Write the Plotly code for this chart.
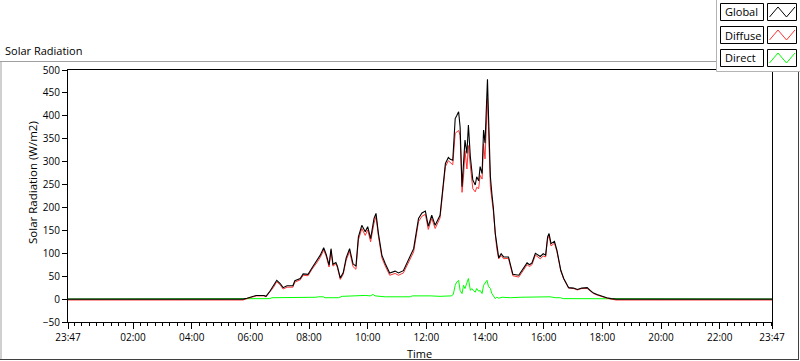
import plotly.graph_objects as go
import pandas as pd

# ---------------- data ----------------
START = "2024-01-01 23:47"
END = "2024-01-02 23:47"
DAY = "2024-01-02 "

tick_times = ["2024-01-01 23:47", "02:00", "04:00", "06:00", "08:00", "10:00", "12:00",
              "14:00", "16:00", "18:00", "20:00", "22:00", "2024-01-02 23:47"]
tick_labels = ["23:47", "02:00", "04:00", "06:00", "08:00", "10:00", "12:00",
               "14:00", "16:00", "18:00", "20:00", "22:00", "23:47"]

gd_times = ["05:45", "05:53", "06:06", "06:12", "06:28", "06:32", "06:40", "06:47", "06:54", "07:01",
            "07:07", "07:15", "07:27", "07:31", "07:42", "07:48", "07:58", "08:06", "08:17", "08:23",
            "08:30", "08:35", "08:41", "08:45", "08:49", "08:55", "08:58", "09:04", "09:10", "09:16",
            "09:23", "09:30", "09:36", "09:41", "09:48", "09:55", "10:00", "10:06", "10:13", "10:17",
            "10:22", "10:29", "10:36", "10:45", "10:56", "11:03", "11:13", "11:23", "11:34", "11:44",
            "11:51", "11:58", "12:04", "12:11", "12:18", "12:28", "12:34", "12:39", "12:45", "12:49",
            "12:54", "12:59", "13:02", "13:06", "13:09", "13:13", "13:16", "13:19", "13:23", "13:26",
            "13:30", "13:35", "13:40", "13:43", "13:47", "13:50", "13:54", "13:57", "14:00", "14:05",
            "14:07", "14:11", "14:14", "14:17", "14:21", "14:24", "14:28", "14:33", "14:38", "14:48",
            "14:53", "14:57", "15:09", "15:19", "15:26", "15:31", "15:36", "15:43", "15:47", "15:53",
            "15:59", "16:04", "16:08", "16:11", "16:15", "16:19", "16:22", "16:27", "16:30", "16:35",
            "16:41", "16:46", "16:51", "17:01", "17:09", "17:18", "17:29", "17:35", "17:42", "17:49",
            "17:59", "18:09", "18:18", "18:28"]

global_vals = [0, 2, 5, 8, 8, 6, 17, 28, 41, 34,
               25, 29, 29, 40, 45, 55, 54, 68, 85, 96,
               112, 98, 74, 110, 76, 80, 72, 46, 58, 90,
               110, 77, 72, 136, 161, 147, 158, 132, 176, 187,
               143, 96, 77, 57, 61, 57, 62, 85, 110, 176,
               188, 192, 159, 183, 161, 183, 245, 296, 309, 305,
               303, 394, 400, 409, 376, 245, 296, 347, 318, 380,
               310, 260, 249, 267, 258, 289, 274, 369, 340, 480,
               405, 267, 230, 200, 143, 114, 90, 99, 92, 92,
               70, 54, 52, 67, 79, 75, 79, 100, 97, 93,
               99, 96, 136, 143, 121, 124, 126, 107, 88, 63,
               45, 34, 25, 24, 21, 24, 25, 19, 13, 10,
               6, 3, 1, 0]

diffuse_vals = [-2, 1, 4, 7, 7, 5, 16, 25, 38, 31,
                22, 26, 26, 37, 42, 52, 51, 65, 81, 91,
                107, 94, 70, 106, 72, 77, 69, 43, 54, 85,
                104, 71, 65, 129, 154, 139, 151, 125, 166, 180,
                137, 90, 72, 52, 56, 52, 57, 80, 103, 169,
                181, 185, 152, 176, 154, 177, 238, 289, 302, 297,
                293, 362, 364, 368, 357, 233, 266, 324, 284, 335,
                291, 241, 234, 244, 241, 270, 262, 339, 306, 439,
                377, 244, 218, 192, 142, 110, 88, 95, 88, 89,
                67, 51, 48, 63, 75, 71, 75, 96, 92, 88,
                94, 92, 131, 138, 116, 120, 122, 104, 85, 61,
                44, 33, 24, 23, 20, 23, 23, 18, 12, 9,
                5, 2, 0, -2]

direct_times = ["05:45", "05:59", "06:40", "06:44", "07:42", "08:14", "08:19", "08:29", "08:33", "09:00",
                "09:08", "09:24", "09:45", "09:55", "10:05", "10:11", "10:15", "10:26", "10:36", "11:27",
                "11:31", "12:08", "12:28", "12:51", "12:55", "12:59", "13:02", "13:06", "13:09", "13:13",
                "13:16", "13:19", "13:23", "13:26", "13:30", "13:33", "13:36", "13:40", "13:43", "13:47",
                "13:50", "13:54", "13:57", "14:00", "14:04", "14:07", "14:11", "14:14", "14:17", "14:21",
                "14:24", "14:28", "14:35", "14:52", "15:12", "15:32", "15:53", "16:03", "16:13", "16:24",
                "16:34", "16:40", "18:12", "18:16"]
direct_vals = [0, 1, 1, 3, 3, 4, 5, 5, 3, 3,
               6, 7, 7, 8, 7, 10, 7, 6, 5, 5,
               7, 7, 6, 7, 10, 30, 37, 41, 19, 12,
               30, 23, 34, 45, 19, 23, 19, 15, 23, 17,
               19, 12, 30, 34, 41, 28, 23, 12, 8, 1,
               4, 2, 4, 3, 4, 4, 5, 4, 5, 3,
               3, 1, 1, 0]

global_night = 0
diffuse_night = -2
direct_night = 0

series_names = ["Global", "Diffuse", "Direct"]
series_colors = ["#000000", "#FF3333", "#00FF00"]

# ---------------- build ----------------
def full_x(times):
    return [START] + [DAY + t for t in times] + [END]

x_gd = pd.to_datetime(full_x(gd_times))
x_dir = pd.to_datetime(full_x(direct_times))
tickvals = pd.to_datetime([t if t.startswith("2024") else DAY + t for t in tick_times])

W_FIG, H_FIG = 800, 361
ML, MR, MT, MB = 68, 28, 70, 39
PW = W_FIG - ML - MR
PH = H_FIG - MT - MB

def fx(px):
    return (px - ML) / PW

def fy(py):
    return (H_FIG - MB - py) / PH

FONT = "Open Sans"

fig = go.Figure()
fig.add_trace(go.Scatter(x=x_dir, y=[direct_night] + direct_vals + [direct_night],
                         name=series_names[2], mode="lines",
                         line=dict(color=series_colors[2], width=1), showlegend=False))
fig.add_trace(go.Scatter(x=x_gd, y=[diffuse_night] + diffuse_vals + [diffuse_night],
                         name=series_names[1], mode="lines",
                         line=dict(color=series_colors[1], width=1), showlegend=False))
fig.add_trace(go.Scatter(x=x_gd, y=[global_night] + global_vals + [global_night],
                         name=series_names[0], mode="lines",
                         line=dict(color=series_colors[0], width=1.1), showlegend=False))

shapes = []
# outer frame
shapes.append(dict(type="line", xref="paper", yref="paper", x0=fx(0), x1=fx(717), y0=fy(61.5), y1=fy(61.5),
                   line=dict(color="#A0A0A0", width=1), layer="above"))
shapes.append(dict(type="line", xref="paper", yref="paper", x0=fx(1), x1=fx(1), y0=fy(61.5), y1=fy(359.5),
                   line=dict(color="#A0A0A0", width=1), layer="above"))
shapes.append(dict(type="line", xref="paper", yref="paper", x0=fx(0), x1=fx(799), y0=fy(359.5), y1=fy(359.5),
                   line=dict(color="#404040", width=1), layer="above"))
shapes.append(dict(type="line", xref="paper", yref="paper", x0=fx(798.5), x1=fx(798.5), y0=fy(72), y1=fy(359.5),
                   line=dict(color="#404040", width=1), layer="above"))
# legend panel
shapes.append(dict(type="rect", xref="paper", yref="paper", x0=fx(717), x1=fx(800), y0=fy(0), y1=fy(71.5),
                   fillcolor="white", line=dict(width=0), layer="above"))
shapes.append(dict(type="line", xref="paper", yref="paper", x0=fx(716.5), x1=fx(716.5), y0=fy(0), y1=fy(71.5),
                   line=dict(color="#B4B4B4", width=1), layer="above"))
shapes.append(dict(type="line", xref="paper", yref="paper", x0=fx(716.5), x1=fx(800), y0=fy(71.5), y1=fy(71.5),
                   line=dict(color="#B4B4B4", width=1), layer="above"))

row_tops = [3.5, 26.5, 49.5]
row_h = 17
annotations = []
for i, (nm, col) in enumerate(zip(series_names, series_colors)):
    top = row_tops[i]
    bot = top + row_h
    shapes.append(dict(type="rect", xref="paper", yref="paper", x0=fx(720.5), x1=fx(763.5),
                       y0=fy(bot), y1=fy(top), fillcolor="white",
                       line=dict(color="black", width=1), layer="above"))
    shapes.append(dict(type="rect", xref="paper", yref="paper", x0=fx(767.5), x1=fx(796.5),
                       y0=fy(bot), y1=fy(top), fillcolor="white",
                       line=dict(color="black", width=1), layer="above"))
    pts = [(769.5, bot - 3.5), (778, top + 3.5), (786.5, bot - 3.5), (795, top + 3.5)]
    path = "M " + " L ".join(f"{fx(a):.5f},{fy(b):.5f}" for a, b in pts)
    shapes.append(dict(type="path", xref="paper", yref="paper", path=path,
                       line=dict(color=col, width=1), layer="above"))
    annotations.append(dict(text=nm, xref="paper", yref="paper", x=fx(723), y=fy((top + bot) / 2),
                            xanchor="left", yanchor="middle", showarrow=False,
                            font=dict(family=FONT, size=11, color="black")))

annotations.append(dict(text="Solar Radiation", xref="paper", yref="paper", x=fx(3), y=fy(50),
                        xanchor="left", yanchor="middle", showarrow=False,
                        font=dict(family=FONT, size=11, color="black")))
annotations.append(dict(text="Solar Radiation (W/m2)", xref="paper", yref="paper", x=fx(32), y=fy(183),
                        xanchor="center", yanchor="middle", textangle=-90, showarrow=False,
                        font=dict(family=FONT, size=11.5, color="black")))
annotations.append(dict(text="Time", xref="paper", yref="paper", x=fx(419), y=fy(353),
                        xanchor="center", yanchor="middle", showarrow=False,
                        font=dict(family=FONT, size=11, color="black")))

fig.update_layout(
    width=W_FIG, height=H_FIG,
    margin=dict(l=ML, r=MR, t=MT, b=MB, pad=0),
    paper_bgcolor="white", plot_bgcolor="white",
    shapes=shapes, annotations=annotations,
    showlegend=False,
    xaxis=dict(type="date", range=[pd.Timestamp(START), pd.Timestamp(END)],
               tickvals=tickvals, ticktext=tick_labels,
               ticks="outside", ticklen=6, tickwidth=1, tickcolor="black",
               showline=True, linecolor="black", linewidth=1, mirror=True,
               showgrid=False, zeroline=False,
               tickfont=dict(family=FONT, size=10, color="black"),
               minor=dict(ticks="outside", ticklen=3, tickcolor="black", tickwidth=1,
                          dtick=15 * 60 * 1000, tick0="2024-01-02 00:00", showgrid=False)),
    yaxis=dict(range=[-50, 500], dtick=50, tick0=0,
               ticks="outside", ticklen=5, tickwidth=1, tickcolor="black",
               showline=True, linecolor="black", linewidth=1, mirror=True,
               showgrid=False, zeroline=False,
               tickfont=dict(family=FONT, size=10, color="black")),
)

fig.write_html("out.html", config={"displayModeBar": False},
               post_script="document.body.style.margin='0';document.body.style.overflow='hidden';")
